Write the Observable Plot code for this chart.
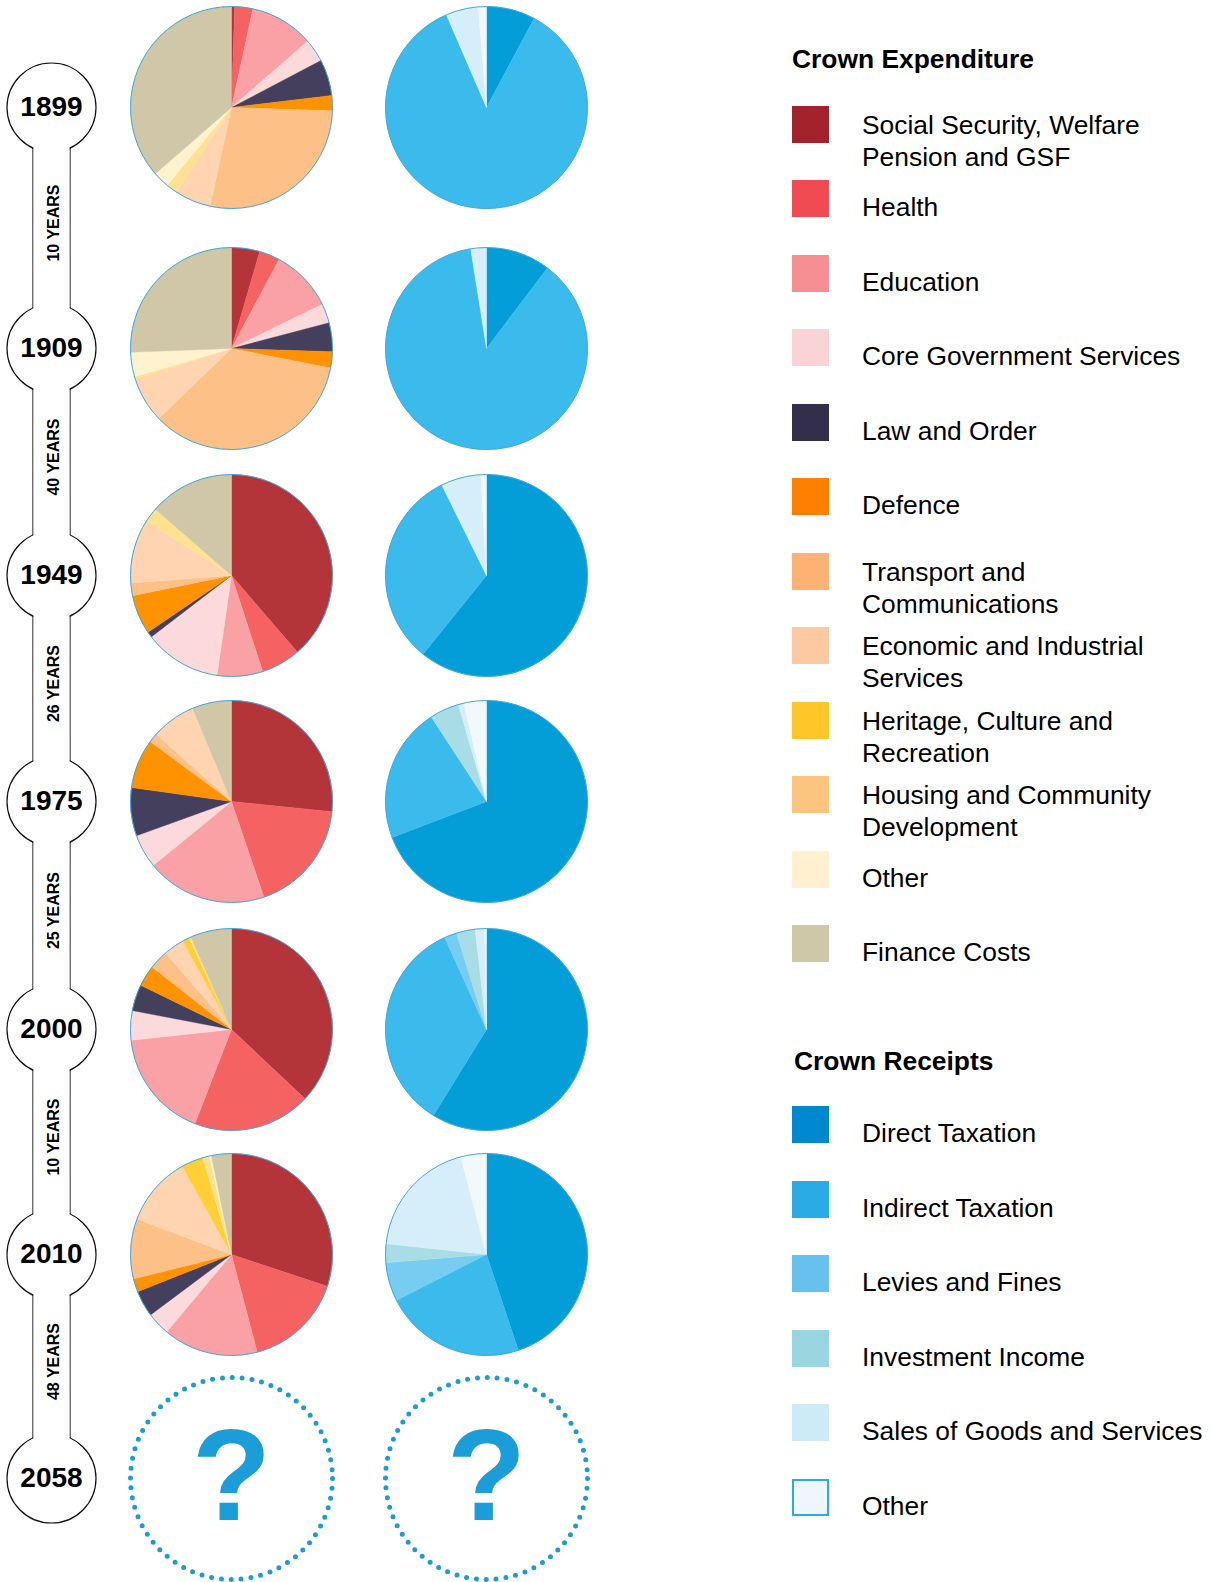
<!DOCTYPE html>
<html>
<head>
<meta charset="utf-8">
<script src="https://cdn.jsdelivr.net/npm/d3@7"></script>
<script src="https://cdn.jsdelivr.net/npm/@observablehq/plot@0.6"></script>
<style>
  html, body { margin: 0; padding: 0; background: #fff; }
  #wrap { position: relative; width: 1212px; height: 1582px; overflow: hidden;
          font-family: "Liberation Sans", Arial, Helvetica, sans-serif; color: #000; }
  #chart { position: absolute; left: 0; top: 0; }
  .lg-title { position: absolute; font-weight: bold; font-size: 26.4px; line-height: 32px; white-space: nowrap; }
  .lg-swatch { position: absolute; width: 37px; height: 37px; box-sizing: border-box; }
  .lg-label { position: absolute; font-size: 26.4px; line-height: 32px; white-space: pre; }
</style>
</head>
<body>
<div id="wrap">
  <div id="chart"></div>
  <div id="legend"></div>
</div>
<script>
// ---------------- DATA ----------------
const years = [1899, 1909, 1949, 1975, 2000, 2010, 2058];
const pieYears = [1899, 1909, 1949, 1975, 2000, 2010];
const futureYear = 2058;
const sides = ["Expenditure", "Receipts"];
const legendTitles = ["Crown Expenditure", "Crown Receipts"];

const expenditureCategories = [
  "Social Security, Welfare\nPension and GSF",
  "Health",
  "Education",
  "Core Government Services",
  "Law and Order",
  "Defence",
  "Transport and\nCommunications",
  "Economic and Industrial\nServices",
  "Heritage, Culture and\nRecreation",
  "Housing and Community\nDevelopment",
  "Other",
  "Finance Costs"
];
const receiptCategories = [
  "Direct Taxation",
  "Indirect Taxation",
  "Levies and Fines",
  "Investment Income",
  "Sales of Goods and Services",
  "Other"
];

// shares (%) of each category, in category order
const expenditure1899 = [0.5, 2.9, 10.2, 3.7, 5.8, 2.4, 27.9, 5.8, 0, 1.8, 2.6, 36.4];
const expenditure1909 = [4.5, 3.3, 10.0, 3.1, 4.6, 2.6, 34.7, 7.3, 0, 0.4, 3.9, 25.6];
const expenditure1949 = [38.7, 6.3, 7.3, 12.3, 0.9, 6.3, 2.0, 10.3, 0, 2.3, 0, 13.6];
const expenditure1975 = [26.6, 18.2, 19.3, 5.4, 7.7, 7.9, 1.5, 7.1, 0, 0, 0, 6.3];
const expenditure2000 = [37.0, 18.9, 17.4, 4.7, 4.2, 3.4, 3.1, 3.3, 1.1, 0.3, 0, 6.6];
const expenditure2010 = [30.1, 15.8, 15.2, 3.7, 4.2, 2.1, 9.6, 11.2, 3.5, 1.1, 0.3, 3.2];

const receipts1899 = [7.8, 85.7, 0, 0, 5.2, 1.3];
const receipts1909 = [10.3, 87.2, 0, 0, 2.5, 0];
const receipts1949 = [60.8, 31.9, 0, 0, 6.4, 0.9];
const receipts1975 = [69.2, 21.6, 0, 4.7, 0.9, 3.6];
const receipts2000 = [58.8, 34.4, 2.0, 3.0, 1.5, 0.3];
const receipts2010 = [44.9, 22.6, 6.2, 3.0, 19.2, 4.1];

const expenditureByYear = [expenditure1899, expenditure1909, expenditure1949, expenditure1975, expenditure2000, expenditure2010];
const receiptsByYear = [receipts1899, receipts1909, receipts1949, receipts1975, receipts2000, receipts2010];

// ---------------- STYLE ----------------
const expenditurePieColors = ["#b3353a", "#f46262", "#f9a1a4", "#fcdadb", "#453f5e", "#ff9200",
                              "#fdc087", "#fed5b0", "#fed036", "#fee290", "#fff2cf", "#cfc7a7"];
const receiptPieColors = ["#039dd7", "#3bbbec", "#76cdf1", "#a8dde6", "#d6eef9", "#f2f9fe"];
const expenditureLegendColors = ["#a4222c", "#f04b53", "#f58f94", "#f9d3d6", "#332e4a", "#ff7f00",
                                 "#fdb172", "#fdc9a3", "#ffc62a", "#fbc580", "#fff1d0", "#cfc8a8"];
const receiptLegendColors = ["#0088cf", "#2babe6", "#66c1ec", "#9ad6df", "#cdebf7", "#eef7fd"];

const LAYOUT = {
  plotWidth: 620, height: 1582,
  colX: [231, 486],
  rowY: [107, 348, 575, 801, 1029, 1254, 1478],
  pieR: 101,
  timelineDx: -180, timelineR: 44.5, stemHalf: 18.5,
  legendX: 792, labelX: 862,
  expTitleTop: 43, expRowStart: 106, expRowStep: 74.45,
  recTitleTop: 1045, recTitleX: 794, recRowStart: 1106, recRowStep: 74.6
};
const FONT = "'Liberation Sans', Arial, Helvetica, sans-serif";

// ---------------- BUILD ----------------
const arcGen = d3.arc();
function arcSymbol(a0, a1) {
  return {
    draw(context, size) {
      const r = Math.sqrt(size / Math.PI);
      arcGen.context(context)({innerRadius: 0, outerRadius: r, startAngle: a0, endAngle: a1});
      arcGen.context(null);
    }
  };
}

const pieLayout = d3.pie().sort(null).value(d => d);
const slices = [];
pieYears.forEach((year, i) => {
  [[sides[0], expenditureCategories, expenditureByYear[i], "E:"],
   [sides[1], receiptCategories, receiptsByYear[i], "R:"]].forEach(([side, cats, vals, prefix]) => {
    pieLayout(vals).forEach((a, j) => {
      if (vals[j] > 0) slices.push({year, side, key: prefix + cats[j], value: vals[j], arc: arcSymbol(a.startAngle, a.endAngle)});
    });
  });
});

const colorDomain = [...expenditureCategories.map(c => "E:" + c), ...receiptCategories.map(c => "R:" + c)];
const colorRange = [...expenditurePieColors, ...receiptPieColors];

const pieRows = pieYears.flatMap(year => sides.map(side => ({year, side})));
const futureRows = sides.map(side => ({year: futureYear, side}));
const timeline = years.map(year => ({year, side: sides[0]}));
const intervals = d3.pairs(years).map(([from, to]) => ({from, to, side: sides[0]}));
const stem = [{from: years[0], to: years[years.length - 1], side: sides[0]}];

const L = LAYOUT;
const dotGap = (2 * Math.PI * L.pieR) / 64;
const chart = Plot.plot({
  width: L.plotWidth,
  height: L.height,
  margin: 0,
  style: {background: "white", fontFamily: FONT, overflow: "visible"},
  x: {type: "point", domain: sides, range: L.colX, padding: 0, axis: null},
  y: {type: "linear", domain: years, range: L.rowY, axis: null},
  color: {type: "ordinal", domain: colorDomain, range: colorRange},
  marks: [
    // timeline stem outline
    Plot.ruleX(stem, {x: "side", y1: "from", y2: "to", dx: L.timelineDx - L.stemHalf, stroke: "#111", strokeWidth: 1.2}),
    Plot.ruleX(stem, {x: "side", y1: "from", y2: "to", dx: L.timelineDx + L.stemHalf, stroke: "#111", strokeWidth: 1.2}),
    // year bubbles
    Plot.dot(timeline, {x: "side", y: "year", dx: L.timelineDx, r: L.timelineR, fill: "white", stroke: "#111", strokeWidth: 1.2}),
    // stem interior
    Plot.ruleX(stem, {x: "side", y1: "from", y2: "to", dx: L.timelineDx, stroke: "white", strokeWidth: 2 * L.stemHalf - 0.9}),
    // year labels
    Plot.text(timeline, {x: "side", y: "year", dx: L.timelineDx, text: d => String(d.year),
      fontSize: 28, fontWeight: "bold", fill: "#000", fontFamily: FONT}),
    // interval labels
    Plot.text(intervals, {x: "side", y: d => (d.from + d.to) / 2, dx: L.timelineDx + 2, dy: -5, rotate: -90,
      text: d => `${d.to - d.from} YEARS`, fontSize: 16, fontWeight: "bold", fill: "#000", fontFamily: FONT}),
    // pie slices
    Plot.dot(slices, {x: "side", y: "year", r: L.pieR, symbol: "arc", fill: "key", stroke: "key", strokeWidth: 0.4}),
    // pie outlines
    Plot.dot(pieRows, {x: "side", y: "year", r: L.pieR, fill: "none", stroke: "#42a7dd", strokeWidth: 1}),
    // future: dotted circles and question marks
    Plot.dot(futureRows, {x: "side", y: "year", r: L.pieR, fill: "none", stroke: "#1b9cd8", strokeWidth: 5,
      strokeDasharray: `0 ${dotGap}`, strokeLinecap: "round"}),
    Plot.text(futureRows, {x: "side", y: "year", text: () => "?", fontSize: 130, fontWeight: "bold",
      fill: "#1b9dd8", fontFamily: FONT})
  ]
});
document.getElementById("chart").appendChild(chart);

// ---------------- LEGEND ----------------
const legend = document.getElementById("legend");
function addEl(cls, styles, text) {
  const el = document.createElement("div");
  el.className = cls;
  Object.assign(el.style, styles);
  if (text != null) el.textContent = text;
  legend.appendChild(el);
  return el;
}
function legendBlock(title, titleX, titleTop, rowStart, rowStep, labels, colors, outlined) {
  addEl("lg-title", {left: titleX + "px", top: titleTop + "px"}, title);
  labels.forEach((label, i) => {
    const top = rowStart + i * rowStep;
    const sw = addEl("lg-swatch", {left: L.legendX + "px", top: top + "px", background: colors[i]});
    if (outlined[i]) sw.style.border = "2px solid #2aaae6";
    const twoLine = label.includes("\n");
    addEl("lg-label", {left: L.labelX + "px", top: (top + (twoLine ? 3 : 11)) + "px"}, label);
  });
}
legendBlock(legendTitles[0], L.legendX, L.expTitleTop, L.expRowStart, L.expRowStep,
  expenditureCategories, expenditureLegendColors, expenditureCategories.map(() => false));
legendBlock(legendTitles[1], L.recTitleX, L.recTitleTop, L.recRowStart, L.recRowStep,
  receiptCategories, receiptLegendColors, receiptCategories.map((c, i) => i === receiptCategories.length - 1));
</script>
</body>
</html>
